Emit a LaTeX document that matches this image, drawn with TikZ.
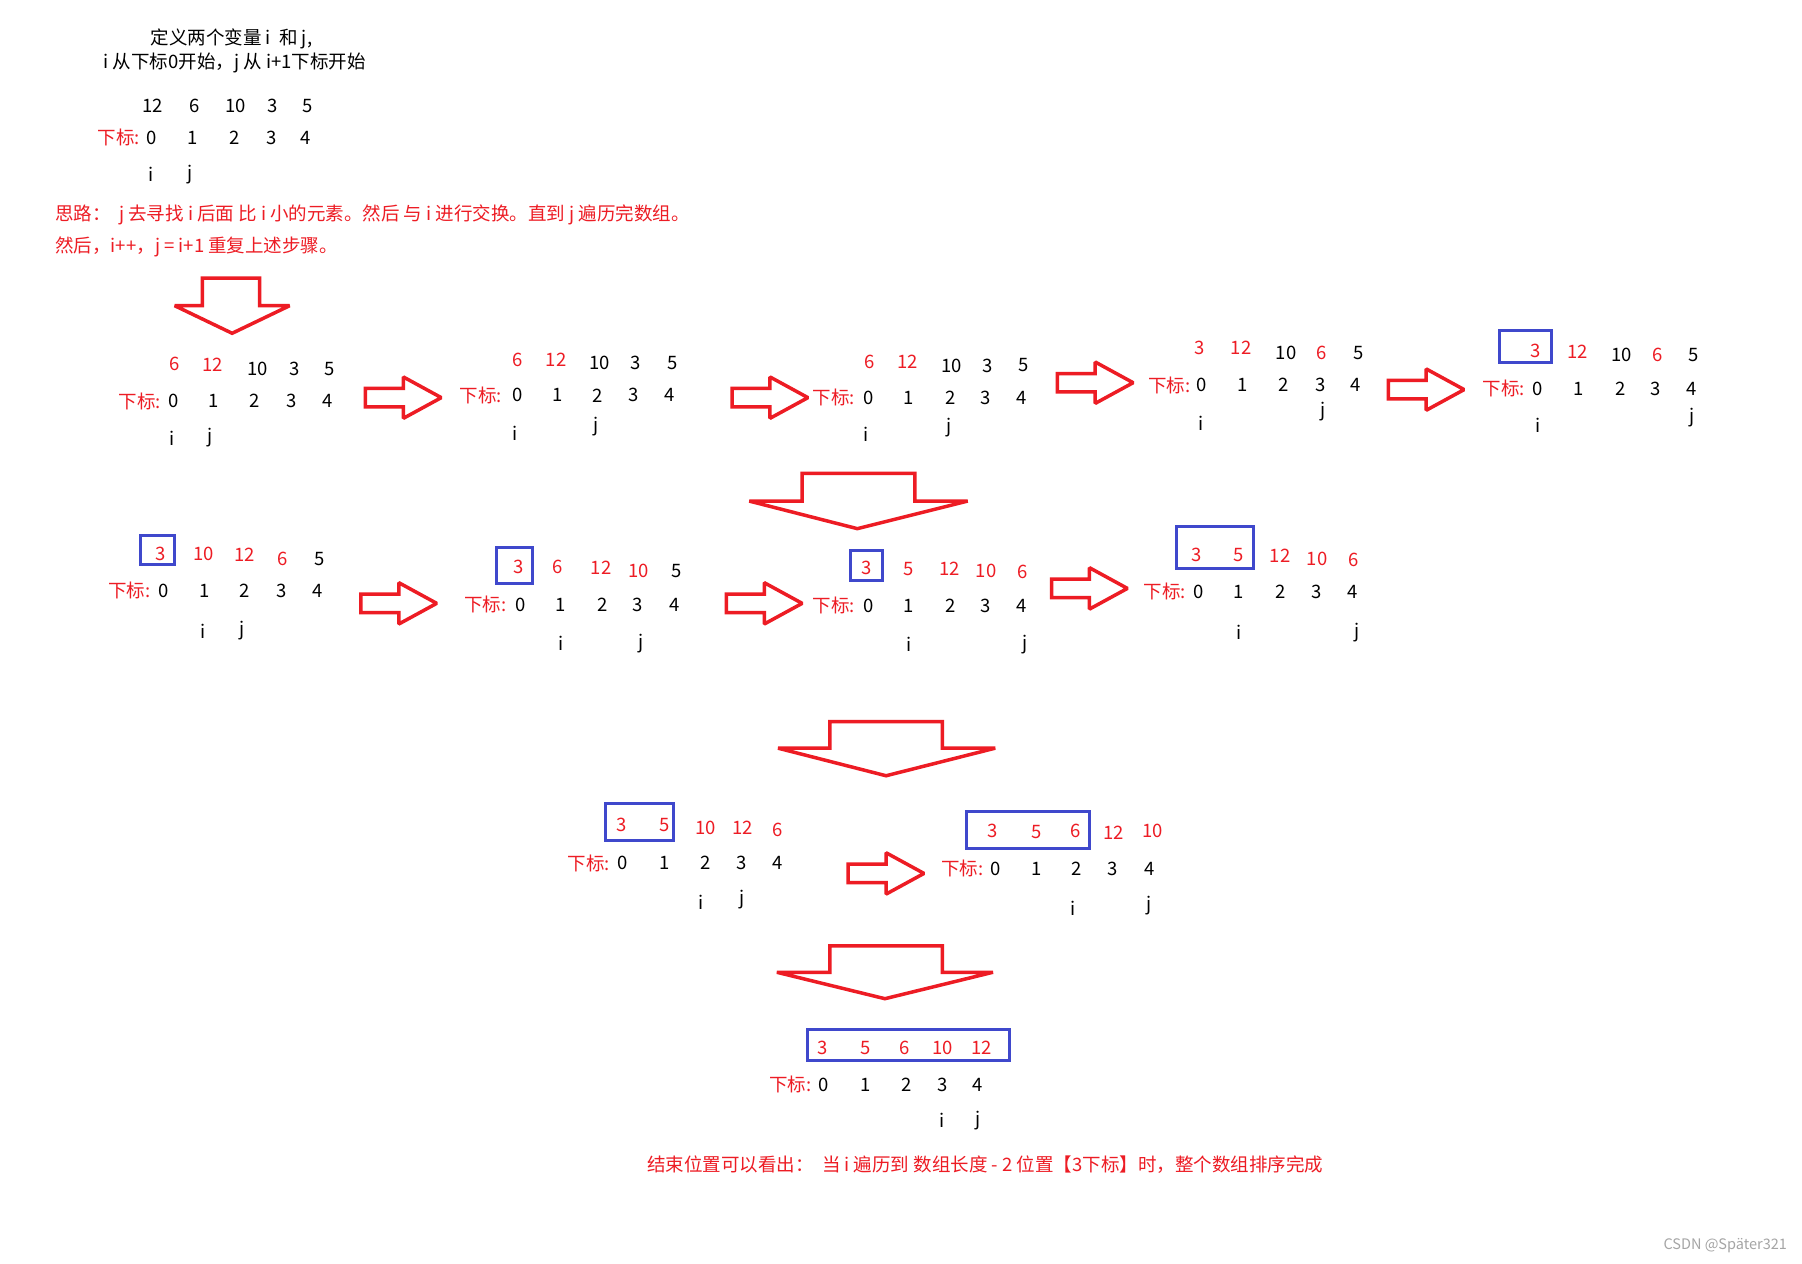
\documentclass[tikz,border=0pt]{standalone}
\usepackage{fontspec}
\setmainfont{Noto Sans CJK SC}
\definecolor{myred}{RGB}{237,28,36}
\definecolor{myblue}{RGB}{63,72,204}
\definecolor{wmgray}{RGB}{165,165,165}
\tikzset{
  num/.style={inner sep=0pt, font=\fontsize{18.5}{20}\selectfont},
  lbl/.style={inner sep=0pt, anchor=east, text=myred, font=\fontsize{18.5}{20}\selectfont},
  txt/.style={inner sep=0pt, anchor=west, font=\fontsize{18.5}{22}\selectfont},
  bluebox/.style={draw=myblue, line width=3pt},
  redarrow/.style={draw=myred, line width=3.5pt, line join=miter, miter limit=1.6, fill=white}
}
\newcommand\vals[2]{\foreach \v/\x/\y/\c [count=\k] in {#2} \node[num,text=\c] (#1v\k) at (\x,\y) {\v};}
\newcommand\idx[6]{%
  \node[lbl] (#1l) at (#2,#3) {下标:};
  \foreach \x [count=\k from 0] in {#4} \node[num] (#1x\k) at (\x,#3) {\k};
  \node[num] (#1i) at (#5) {i};
  \node[num] (#1j) at (#6) {j};}
\newcommand\rarrow[2]{%
  \draw[redarrow] (#1,#2-8) -- ++(33,0) -- ++(0,-10) -- ++(33,18) -- ++(-33,18) -- ++(0,-10) -- ++(-33,0) -- cycle;}
% shaft left, shaft right, top, wing y, wing left, wing right, tip x, tip y
\newcommand\darrow[8]{%
  \draw[redarrow] (#1,#3) -- (#2,#3) -- (#2,#4) -- (#6,#4) -- (#7,#8) -- (#5,#4) -- (#1,#4) -- cycle;}
\begin{document}
\begin{tikzpicture}[x=1.149pt,y=-1.149pt]
\useasboundingbox[fill=white] (0,0) rectangle (1568,1099);

% title
\node[txt] (t1) at (131,34) {定义两个变量 i\ \ 和 j,};
\node[txt] (t2) at (90,55) {i 从下标0开始，j 从 i+1下标开始};

% initial array
\vals{S}{12/133/92/black, 6/169/92/black, 10/205/92/black, 3/237/92/black, 5/268/92/black}
\idx{S}{122}{120}{132,168,204,236,266}{131,152}{165,152}

% idea text
\node[txt,text=myred] (idea1) at (48,187) {思路：\ \ j 去寻找 i 后面 比 i 小的元素。然后 与 i 进行交换。直到 j 遍历完数组。};
\node[txt,text=myred] (idea2) at (48,215) {然后，i++，j = i+1 重复上述步骤。};

% down arrow 1
\darrow{176}{226}{242}{266}{152}{252}{202}{290}

% row 1
\vals{A}{6/152/317/myred, 12/185/317/myred, 10/224/321/black, 3/256/321/black, 5/287/321/black}
\idx{A}{140}{349}{151,186,222,254,285}{150,381}{183,381}
\rarrow{318}{346}
\vals{B}{6/450/313/myred, 12/484/313/myred, 10/522/316/black, 3/553/316/black, 5/585/316/black}
\idx{B}{437}{344}{450,485,520,551,583}{448,377}{519,371}
\rarrow{637}{346}
\vals{C}{6/757/315/myred, 12/790/315/myred, 10/828/318/black, 3/859/318/black, 5/891/318/black}
\idx{C}{744}{346}{756,791,827,858,889}{754,378}{826,372}
\rarrow{920}{333}
\vals{D}{3/1044/303/myred, 12/1080/303/myred, 10/1119/307/black, 6/1150/307/myred, 5/1182/307/black}
\idx{D}{1036}{335}{1046,1081,1117,1149,1180}{1045,368}{1151,358}
\rarrow{1208}{339}
\draw[bluebox] (1305,288) rectangle (1350,315);
\vals{E}{3/1336/305/myred, 12/1373/306/myred, 10/1411/309/black, 6/1442/309/myred, 5/1474/309/black}
\idx{E}{1327}{338}{1338,1374,1410,1441,1472}{1338,370}{1472,363}

% down arrow 2
\darrow{698}{796}{412}{436}{652}{842}{746}{460}

% row 2
\draw[bluebox] (122,466) rectangle (152,491);
\vals{F}{3/140/482/myred, 10/177/482/myred, 12/213/483/myred, 6/246/486/myred, 5/278/486/black}
\idx{F}{131}{514}{142,178,213,245,276}{177,549}{211,549}
\rarrow{314}{525}
\draw[bluebox] (432,476) rectangle (463,508);
\vals{G}{3/451/493/myred, 6/485/493/myred, 12/523/494/myred, 10/556/497/myred, 5/589/497/black}
\idx{G}{441}{526}{453,488,524,555,587}{488,560}{558,560}
\rarrow{632}{525}
\draw[bluebox] (740,479) rectangle (768,505);
\vals{H}{3/754/494/myred, 5/791/495/myred, 12/826/495/myred, 10/858/497/myred, 6/890/498/myred}
\idx{H}{744}{527}{756,791,827,858,889}{791,561}{892,561}
\rarrow{915}{512}
\draw[bluebox] (1024,458) rectangle (1091,495);
\vals{I}{3/1041/483/myred, 5/1078/483/myred, 12/1114/484/myred, 10/1146/486/myred, 6/1178/487/myred}
\idx{I}{1032}{515}{1043,1078,1114,1146,1177}{1078,550}{1181,550}

% down arrow 3
\darrow{722}{820}{628}{651}{677}{866}{771}{675}

% row 3
\draw[bluebox] (527,699) rectangle (586,731);
\vals{J}{3/541/718/myred, 5/578/718/myred, 10/614/720/myred, 12/646/720/myred, 6/677/722/myred}
\idx{J}{531}{751}{542,578,614,645,677}{610,785}{646,783}
\rarrow{738}{760}
\draw[bluebox] (841,706) rectangle (948,738);
\vals{K}{3/864/723/myred, 5/902/724/myred, 6/936/723/myred, 12/969/725/myred, 10/1003/723/myred}
\idx{K}{856}{756}{866,902,937,968,1000}{934,790}{1000,788}

% down arrow 4
\darrow{722}{820}{823}{846}{676}{864}{770}{869}

% final
\draw[bluebox] (703,896) rectangle (878,923);
\vals{L}{3/716/912/myred, 5/753/912/myred, 6/787/912/myred, 10/820/912/myred, 12/854/912/myred}
\idx{L}{706}{944}{717,753,789,820,851}{820,975}{851,975}

\node[txt,text=myred] (concl) at (563,1013) {结束位置可以看出：\ \ 当 i 遍历到 数组长度 - 2 位置【3下标】时，整个数组排序完成};

\node[inner sep=0pt, anchor=east, text=wmgray, font=\fontsize{14.5}{16}\selectfont] (wm) at (1555,1084) {CSDN @Später321};
\end{tikzpicture}
\end{document}
